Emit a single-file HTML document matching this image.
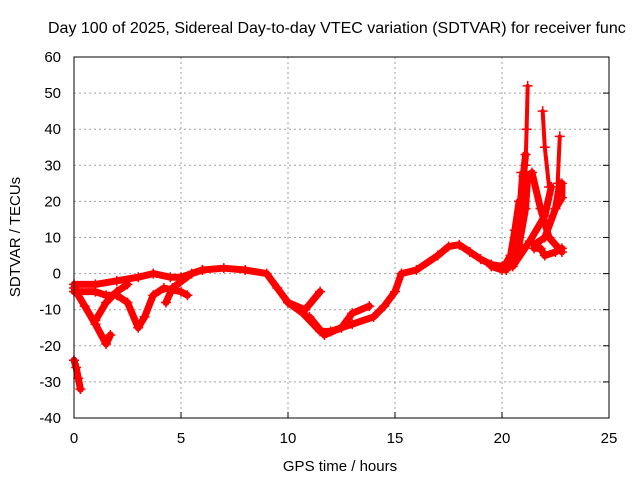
<!DOCTYPE html>
<html><head><meta charset="utf-8"><style>
html,body{margin:0;padding:0;background:#fff;overflow:hidden}
svg{display:block;font-family:"Liberation Sans",sans-serif}
</style></head><body>
<svg id="chart" width="640" height="480" viewBox="0 0 640 480">
<rect width="640" height="480" fill="#fff"/>
<text x="48" y="33" font-size="16" fill="#000">Day 100 of 2025, Sidereal Day-to-day VTEC variation (SDTVAR) for receiver func</text>
<g id="grid"></g>
<g id="series"></g>
<rect x="74" y="57" width="535" height="361" fill="none" stroke="#000" stroke-width="1"/>
<g id="axes"></g>
<text x="340" y="471" font-size="15" text-anchor="middle">GPS time / hours</text>
<text transform="translate(20,237) rotate(-90)" font-size="15" text-anchor="middle">SDTVAR / TECUs</text>
</svg>
<script>
const xTicks=[0,5,10,15,20,25];
const yTicks=[-40,-30,-20,-10,0,10,20,30,40,50,60];
const track1=[[0,-4],[0.5,-9],[1,-14],[1.5,-19.5],[1.7,-17]];
const track2=[[0,-24],[0.1,-26],[0.2,-29],[0.3,-32]];
const track3=[[0,-3],[1,-3],[2,-2],[3,-1],[3.7,0],[4.5,-1],[5,-1],[6,1],[7,1.5],[8,1],[9,0],[9.5,-4],[10,-8],[10.7,-11],[11.5,-16],[12,-16],[13,-14],[14,-12],[14.5,-9],[15,-5],[15.3,0],[16,1],[17,5],[17.5,7.5],[18,8],[18.5,6],[19,4],[19.5,2.5],[20,2],[20.5,4],[20.8,15],[21,27],[21.1,33]];
const track4=[[0,-5],[1,-5],[1.5,-6],[2,-6],[2.5,-8],[3,-15],[3.3,-12],[3.7,-6],[4.2,-4],[5,-5],[5.3,-6]];
const track5=[[1,-13],[1.5,-8],[2,-5],[2.5,-3]];
const track6=[[4.3,-8],[4.6,-4],[5.5,0],[6,1]];
const track7=[[10,-8],[10.8,-10],[11.5,-5]];
const track8=[[11,-12],[11.7,-17],[12.5,-15],[13,-11],[13.8,-9]];
const track9=[[19.5,2],[20,1],[20.4,5],[20.6,12],[20.8,20]];
const track10=[[20.2,1],[20.8,8],[21.1,18],[21.2,27],[21.4,28],[21.8,18],[22.2,10],[22.8,6]];
const track11=[[20.5,2],[21.3,9],[22,16],[22.3,24]];
const track12=[[21.5,8],[22,10],[22.5,18],[22.7,25]];
const track13=[[21.5,7],[21.8,7],[22,5],[22.5,6],[22.8,7]];
const track14=[[22.5,18],[22.8,21],[22.8,25]];
const spike1=[[21.1,30],[21.15,40],[21.2,52]];
const spike2=[[20.8,20],[20.9,28]];
const spike3=[[22.2,24],[22.0,35],[21.9,45]];
const spike4=[[22.6,25],[22.7,38]];
const tracks=[track1,track2,track3,track4,track5,track6,track7,track8,track9,track10,track11,track12,track13,track14];
const spikes=[spike1,spike2,spike3,spike4];
const X0=74,X1=609,Y0=418,Y1=57;
const sx=v=>X0+(v-0)/(25-0)*(X1-X0);
const sy=v=>Y0-(v+40)/(100)*(Y0-Y1);
const NS="http://www.w3.org/2000/svg";
const grid=document.getElementById('grid'),axes=document.getElementById('axes'),ser=document.getElementById('series');
function mk(t,a,p){const e=document.createElementNS(NS,t);for(const k in a)e.setAttribute(k,a[k]);p.appendChild(e);return e;}
xTicks.forEach(t=>{
 if(t>0&&t<25){const g=mk('line',{x1:sx(t),x2:sx(t),y1:Y1,y2:Y0,stroke:'#a0a0a0','stroke-dasharray':'2,3'},grid);
 
 }
 const tk=mk('line',{x1:sx(t),x2:sx(t),y1:Y0,y2:Y0-6,stroke:'#000'},axes);
 
 
 const tx=mk('text',{x:sx(t),y:Y0+25,'font-size':15,'text-anchor':'middle'},axes);tx.textContent=t;
 
 
});
yTicks.forEach(t=>{
 if(t>-40&&t<60){const g=mk('line',{x1:X0,x2:X1,y1:sy(t),y2:sy(t),stroke:'#a0a0a0','stroke-dasharray':'2,3'},grid);
 
 }
 const tk=mk('line',{x1:X1,x2:X1-6,y1:sy(t),y2:sy(t),stroke:'#000'},axes);
 
 
 const tx=mk('text',{x:61,y:sy(t)+5,'font-size':15,'text-anchor':'end'},axes);tx.textContent=t;
 
 
});
function draw(list,w,name){
 list.forEach(tr=>{
  const pl=mk('polyline',{points:tr.map(p=>sx(p[0])+','+sy(p[1])).join(' '),fill:'none',stroke:'#ff0000','stroke-width':w,'stroke-linejoin':'round','stroke-linecap':'round'},ser);
  
  
  tr.forEach(p=>{
   const m=mk('path',{d:`M${sx(p[0])-5},${sy(p[1])}h10M${sx(p[0])},${sy(p[1])-5}v10`,stroke:'#ff0000','stroke-width':1.5},ser);
   
   
  });
 });
}
draw(tracks,7,'sdtvar-track');
draw(spikes,4,'sdtvar-spike');
</script>
</body></html>
